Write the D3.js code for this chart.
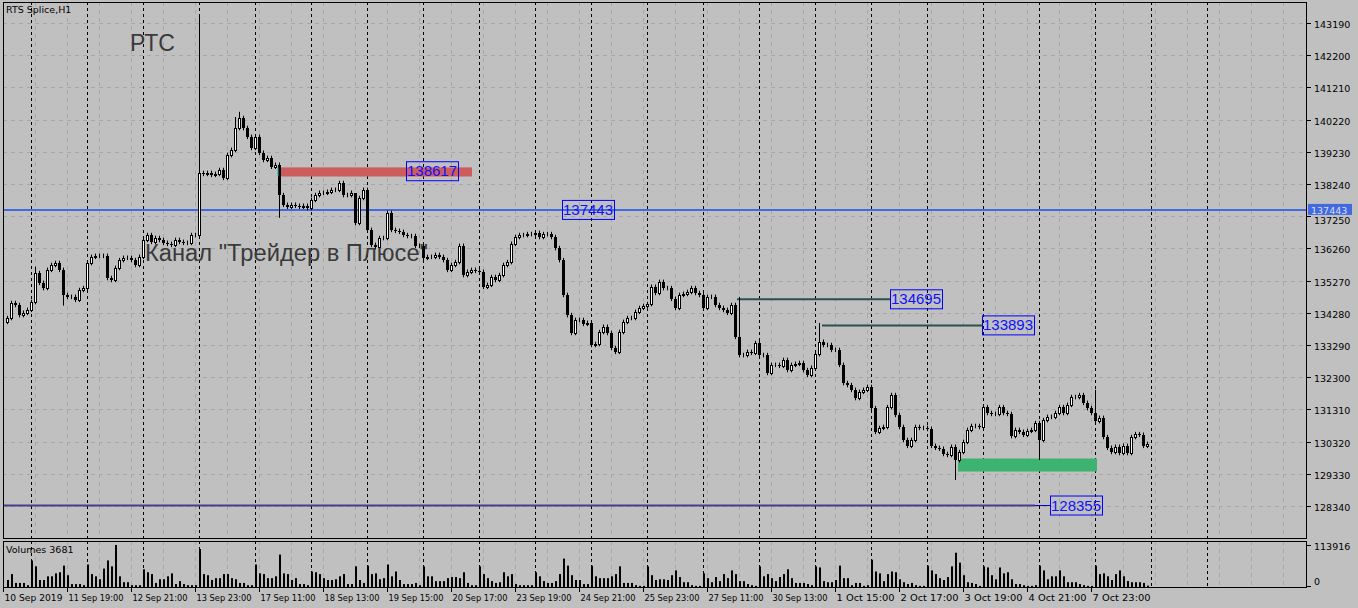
<!DOCTYPE html>
<html><head><meta charset="utf-8">
<script src="https://cdn.jsdelivr.net/npm/d3@7"></script>
<style>body{margin:0;background:#c0c0c0}svg{display:block}</style>
</head><body>
<svg id="c" width="1358" height="608"></svg>
<script>
const closes=[134120,134580,134520,134210,134280,134370,134610,135500,135200,135040,135600,135750,135810,135600,134830,134770,134770,134680,134980,135040,
135810,136000,136030,136030,136030,135350,135290,135660,135900,135970,135970,135900,135750,136000,136520,136670,136460,136580,136520,136430,
136400,136370,136520,136460,136430,136430,136670,136670,138580,138550,138580,138520,138550,138670,138430,139130,139290,139960,140270,139960,
139690,139350,139690,139200,138980,139040,138770,138830,137900,137600,137540,137600,137570,137540,137570,137500,137750,137900,137970,137970,
138000,138060,138060,138270,137900,137900,137970,137040,137810,138060,136830,136370,136300,136580,136580,137350,136830,136800,136770,136670,
136640,136640,136340,136340,135970,136000,136000,136060,136000,135900,135600,135750,135840,136340,135440,135540,135600,135570,135540,135080,
135140,135380,135290,135440,135750,135840,136400,136610,136670,136670,136700,136700,136740,136610,136700,136700,136610,136270,135900,134830,
134210,133660,134060,134060,133940,133970,133290,133320,133690,133850,133660,133200,133080,133690,134000,134120,134120,134310,134430,134490,
134550,135080,134890,135230,135040,135040,134710,134430,134830,134860,134920,135040,134890,134830,134430,134770,134770,134520,134430,134370,
134280,134520,133540,132980,132980,133080,133050,133350,132980,132980,132430,132680,132680,132650,132830,132520,132680,132710,132740,132520,
132370,132590,133010,133390,133290,133290,133140,133140,132680,132120,132060,131910,131660,131850,131910,132000,131350,130620,130740,130770,
131380,131750,131140,130770,130370,130190,130370,130770,130740,130740,130710,130190,130130,130100,129940,129910,130160,129750,130000,130310,
130680,130800,130800,130770,131380,131200,131170,131170,131380,131200,131170,130490,130680,130620,130530,130650,130680,130890,130370,130980,
131080,131080,131200,131380,131200,131450,131690,131690,131750,131510,131350,131200,130950,131050,130460,130130,130000,130160,129970,130190,
129970,130460,130550,130530,130190,130250];
const firstOpen=134000;
const highOverride={48:143440,57:140300,58:140460,183:134770,203:133970,272:131910,87:137900,7:135700};
const lowOverride={68:137200,237:129140,258:129750,48:136600,14:134500};
const wick=70;
const volK=[19,35,11,11,11,5,
72,56,19,19,29,29,37,40,58,32,8,8,8,5,
61,35,29,21,50,72,56,114,29,13,13,5,5,5,
48,40,35,11,21,21,29,37,8,16,8,5,5,5,
103,35,32,19,24,24,35,35,24,21,11,11,5,5,
61,37,35,24,24,29,88,37,35,19,24,8,8,5,
42,40,35,24,19,19,21,29,35,8,8,56,19,11,
58,35,37,21,24,61,29,42,19,8,8,8,11,5,
56,29,29,16,16,16,24,27,27,24,40,11,5,5,
56,35,24,16,11,13,40,29,35,8,5,5,5,5,
40,29,16,11,11,16,35,77,58,32,19,19,8,8,
58,29,24,24,24,29,35,56,11,11,11,5,3,3,
56,32,19,21,21,19,32,45,27,13,13,5,3,3,
37,24,13,27,16,35,24,45,35,16,16,8,5,3,
56,29,35,24,16,27,35,48,24,11,11,11,8,5,
56,53,16,13,13,19,58,24,24,5,11,11,3,5,
74,42,37,16,35,42,40,21,13,8,11,5,3,3,
58,45,35,24,19,27,56,93,66,32,13,11,8,3,
56,53,32,21,53,37,40,21,8,8,5,3,3,5,
58,45,21,29,29,45,29,13,13,13,8,5,3,3,
58,35,37,29,19,35,45,29,16,13,13,13,11,3.681];
const priceTicks=[143190,142200,141210,140220,139230,138240,137250,136260,135270,134280,133290,132300,131310,130320,129330,128340];
const timeLabels=["10 Sep 2019","11 Sep 19:00","12 Sep 21:00","13 Sep 23:00","17 Sep 11:00","18 Sep 13:00","19 Sep 15:00","20 Sep 17:00","23 Sep 19:00","24 Sep 21:00","25 Sep 23:00","27 Sep 11:00","30 Sep 13:00","1 Oct 15:00","2 Oct 17:00","3 Oct 19:00","4 Oct 21:00","7 Oct 23:00"];
const hLevel=137443;
const rays=[{p:134695,from:182.5,to:220.75,box:220.75},{p:133893,from:203.75,to:243.75,box:243.75}];
const supportLine=128355;
const redZone={top:138750,bot:138470,from:67.75,to:116.25,label:138617};
const greenZone={top:129800,bot:129400,from:237.75,to:272.5};

const svg=d3.select("#c");
const L=3,R=1306,T=2,B=538,VT=541,VB=587;
const x=d3.scaleLinear().domain([0,285]).range([7,1147]);
const y=d3.scaleLinear().domain([128340,143190]).range([506,23]);
const yv=d3.scaleLinear().domain([0,113.916]).range([VB,545]);
const font="'DejaVu Sans',Tahoma,sans-serif";
const sfont="'Liberation Sans',Arial,sans-serif";

const g=svg.append("g");
function grid(y0,y1,ys){
  for(let k=0;3+32*k<R;k++){const xx=3+32*k+0.5;g.append("line").attr("x1",xx).attr("x2",xx).attr("y1",y0).attr("y2",y1).attr("stroke","#a8a8a8").attr("stroke-dasharray","4,4");}
  ys.forEach(v=>{g.append("line").attr("x1",L).attr("x2",R).attr("y1",v).attr("y2",v).attr("stroke","#a8a8a8").attr("stroke-dasharray","4,4");});
  for(let i=6;i<=300;i+=14){const xx=Math.round(x(i))+0.5;if(xx>R)break;g.append("line").attr("x1",xx).attr("x2",xx).attr("y1",y0).attr("y2",y1).attr("stroke","#000").attr("stroke-dasharray","3,3");}
}
grid(T,B,priceTicks.map(p=>Math.round(y(p))+0.5));
grid(VT,VB,[]);

svg.append("rect").attr("x",x(redZone.from)).attr("width",x(redZone.to)-x(redZone.from)).attr("y",y(redZone.top)).attr("height",y(redZone.bot)-y(redZone.top)).attr("fill","#cd5c5c");
svg.append("rect").attr("x",x(greenZone.from)).attr("width",x(greenZone.to)-x(greenZone.from)).attr("y",y(greenZone.top)).attr("height",y(greenZone.bot)-y(greenZone.top)).attr("fill","#3cb371");

svg.append("line").attr("x1",L).attr("x2",R).attr("y1",y(hLevel)).attr("y2",y(hLevel)).attr("stroke","#4169e1").attr("stroke-width",2);
svg.append("line").attr("x1",L).attr("x2",x(257)).attr("y1",y(supportLine)).attr("y2",y(supportLine)).attr("stroke","#483d8b").attr("stroke-width",2);
svg.append("line").attr("x1",x(257)).attr("x2",1050).attr("y1",y(supportLine)).attr("y2",y(supportLine)).attr("stroke","#0000cc").attr("stroke-width",1);
rays.forEach(r=>svg.append("line").attr("x1",x(r.from)).attr("x2",x(r.to)).attr("y1",y(r.p)).attr("y2",y(r.p)).attr("stroke","#2f4f4f").attr("stroke-width",2));

const cg=svg.append("g");
closes.forEach((c,i)=>{
  const o=i===0?firstOpen:closes[i-1];
  const hi=highOverride[i]!==undefined?highOverride[i]:Math.max(o,c)+wick;
  const lo=lowOverride[i]!==undefined?lowOverride[i]:Math.min(o,c)-wick;
  const xx=Math.round(x(i));
  cg.append("line").attr("x1",xx+0.5).attr("x2",xx+0.5).attr("y1",y(hi)).attr("y2",y(lo)).attr("stroke","#000");
  const top=Math.round(y(Math.max(o,c))),bot=Math.round(y(Math.min(o,c)));
  if(c>=o){cg.append("rect").attr("x",xx-0.5).attr("y",top+0.5).attr("width",2).attr("height",Math.max(bot-top,0)).attr("fill","#fff").attr("stroke","#000");}
  else{cg.append("rect").attr("x",xx-1).attr("y",top).attr("width",3).attr("height",Math.max(bot-top,1)).attr("fill","#000");}
});

volK.forEach((v,i)=>{const xx=Math.round(x(i));svg.append("rect").attr("x",xx).attr("y",yv(v)).attr("width",2).attr("height",VB-yv(v)).attr("fill","#000");});

function box(xl,yc,txt){
  svg.append("rect").attr("x",xl+0.5).attr("y",yc-9.5).attr("width",52).attr("height",19).attr("fill","none").attr("stroke","#0000ff");
  svg.append("text").attr("x",xl+26).attr("y",yc+5).attr("text-anchor","middle").attr("font-family",sfont).attr("font-size",15).attr("fill","#1010ff").text(txt);
}
box(406,y(redZone.label)-0.5,String(redZone.label));
box(562,y(hLevel),String(hLevel));
rays.forEach(r=>box(x(r.box),y(r.p),String(r.p)));
box(1050,y(supportLine),String(supportLine));

svg.append("line").attr("x1",x(67.75)).attr("x2",x(67.75)).attr("y1",y(redZone.top)).attr("y2",y(redZone.bot)).attr("stroke","#20b2aa");

svg.append("rect").attr("x",L+0.5).attr("y",T+0.5).attr("width",R-L).attr("height",B-T).attr("fill","none").attr("stroke","#000");
svg.append("rect").attr("x",L+0.5).attr("y",VT+0.5).attr("width",R-L).attr("height",VB-VT).attr("fill","none").attr("stroke","#000");

priceTicks.forEach(p=>{const yy=Math.round(y(p))+0.5;
  svg.append("line").attr("x1",R).attr("x2",R+5).attr("y1",yy).attr("y2",yy).attr("stroke","#000");
  if(p===137250) return;
  svg.append("text").attr("x",R+8).attr("y",yy+4).attr("font-family",font).attr("font-size",9.5).attr("fill","#000").text(p);});
svg.append("text").attr("x",R+8).attr("y",Math.round(y(137250))+7.5).attr("font-family",font).attr("font-size",9.5).attr("fill","#000").text(137250);
svg.append("rect").attr("x",R+2).attr("y",y(hLevel)-6).attr("width",44).attr("height",11).attr("fill","#4169e1");
svg.append("text").attr("x",R+5).attr("y",y(hLevel)+4).attr("font-family",font).attr("font-size",9.5).attr("fill","#dde").text(hLevel);
[[113916,546],[0,581]].forEach(([t,yy])=>{
  svg.append("line").attr("x1",R).attr("x2",R+5).attr("y1",t?545.5:586.5).attr("y2",t?545.5:586.5).attr("stroke","#000");
  svg.append("text").attr("x",R+8).attr("y",yy+4).attr("font-family",font).attr("font-size",9.5).text(t);});
timeLabels.forEach((t,k)=>{const xx=3+64*k+0.5;
  svg.append("line").attr("x1",xx).attr("x2",xx).attr("y1",VB).attr("y2",VB+5).attr("stroke","#000");
  svg.append("text").attr("x",xx+1).attr("y",601).attr("font-family",font).attr("font-size",9).attr("textLength",t.length>11?55:58).attr("lengthAdjust","spacingAndGlyphs").text(t);});

svg.append("text").attr("x",6).attr("y",13).attr("font-family",font).attr("font-size",9.5).text("RTS Splice,H1");
svg.append("text").attr("x",6).attr("y",553).attr("font-family",font).attr("font-size",9.5).text("Volumes 3681");
svg.append("text").attr("x",130).attr("y",51).attr("font-family",sfont).attr("font-size",23).attr("fill","#3a3a3a").text("РТС");
svg.append("text").attr("x",145).attr("y",261).attr("font-family",sfont).attr("font-size",23).attr("fill","#3a3a3a").attr("textLength",283).attr("lengthAdjust","spacingAndGlyphs").text("Канал \"Трейдер в Плюсе\"");
</script></body></html>
